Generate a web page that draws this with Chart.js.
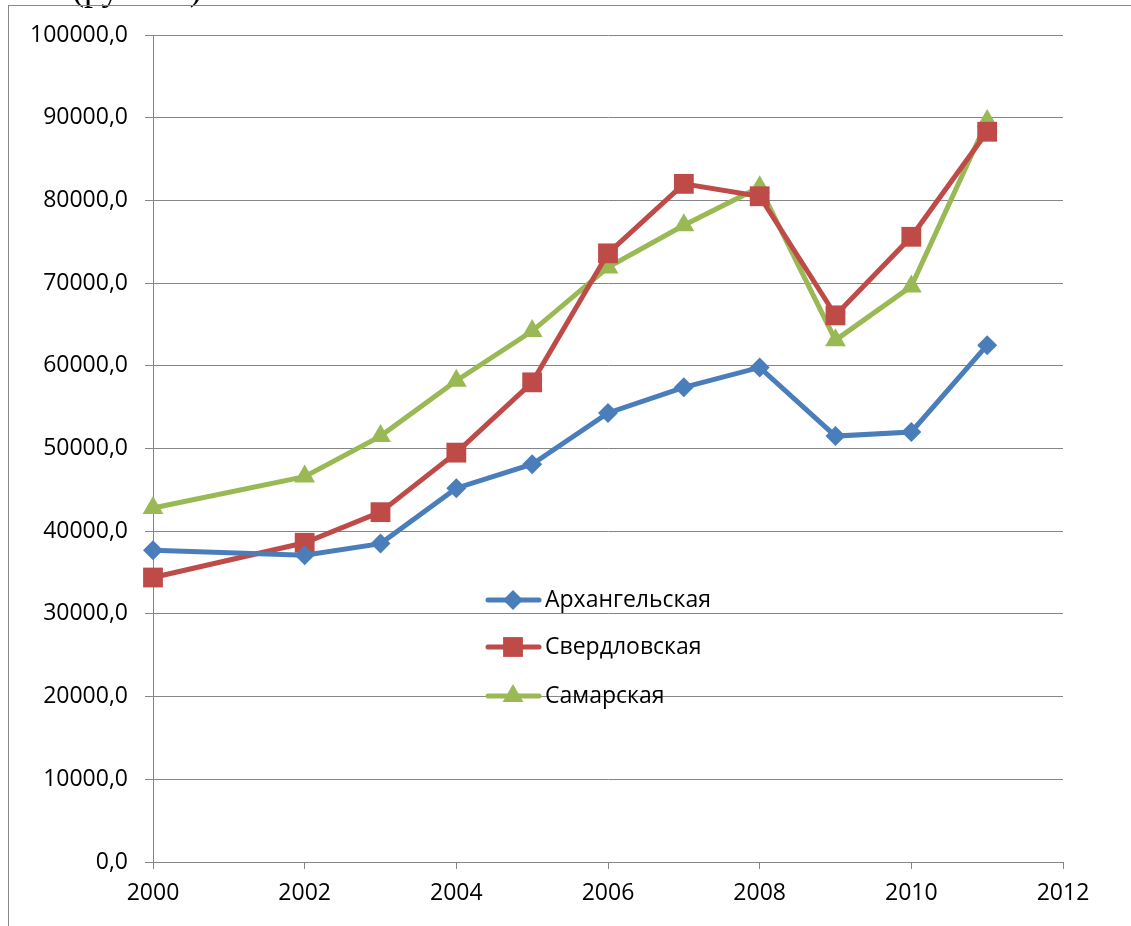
<!DOCTYPE html>
<html>
<head>
<meta charset="utf-8">
<script src="https://cdn.jsdelivr.net/npm/chart.js@4"></script>
<style>
  html, body { margin:0; padding:0; background:#fff; overflow:hidden; }
  #wrap { position:absolute; left:0; top:0; width:1131px; height:926px; }
  #frame { position:absolute; left:8px; top:5px; width:1140px; height:940px; border-left:1px solid #878787; border-top:1px solid #878787; box-sizing:border-box; }
  #cut { position:absolute; left:72px; top:-33px; font-family:"Liberation Serif","Times New Roman",serif; font-size:36px; color:#000; white-space:nowrap; }
</style>
</head>
<body>
<div id="wrap">
  <div id="cut">(рублей)</div>
  <div id="frame"></div>
  <canvas id="c" width="1131" height="926"></canvas>
</div>
<script>
const years = [2000, 2002, 2003, 2004, 2005, 2006, 2007, 2008, 2009, 2010, 2011];
const seriesNames = ["Архангельская", "Свердловская", "Самарская"];
const arkhangelsk = [37700, 37100, 38500, 45200, 48100, 54300, 57400, 59800, 51500, 52000, 62500];
const sverdlovsk  = [34400, 38600, 42300, 49500, 58000, 73600, 82000, 80500, 66100, 75600, 88300];
const samara      = [42800, 46600, 51500, 58200, 64200, 71900, 77000, 81600, 63100, 69600, 89600];
const yTickMin = 0, yTickMax = 100000, yTickStep = 10000;
const xTickMin = 2000, xTickMax = 2012, xTickStep = 2;

const colors = ["#4A7EBB", "#BE4B48", "#98B954"];
const shapes = ["rectRot", "rect", "triangle"];
const radii = [10, 14, 12];
const values = [arkhangelsk, sverdlovsk, samara];

const datasets = values.map((vals, i) => ({
  label: seriesNames[i],
  data: years.map((y, j) => ({ x: y, y: vals[j] })),
  borderColor: colors[i],
  backgroundColor: colors[i],
  pointBackgroundColor: colors[i],
  pointBorderColor: colors[i],
  pointBorderWidth: 0,
  pointStyle: shapes[i],
  pointRadius: radii[i],
  pointHoverRadius: radii[i],
  borderWidth: 5,
  tension: 0,
  clip: false
}));

const FONT = '"Open Sans", "DejaVu Sans", sans-serif';

const legendPlugin = {
  id: 'insideLegend',
  afterDatasetsDraw(chart) {
    const ctx = chart.ctx;
    const rows = [600, 647, 696];
    chart.data.datasets.forEach((ds, i) => {
      const y = rows[i];
      ctx.save();
      ctx.strokeStyle = ds.borderColor;
      ctx.lineWidth = 5;
      ctx.lineCap = 'round';
      ctx.beginPath();
      ctx.moveTo(488, y);
      ctx.lineTo(539, y);
      ctx.stroke();
      ctx.fillStyle = ds.pointBackgroundColor;
      ctx.strokeStyle = ds.pointBorderColor;
      Chart.helpers.drawPoint(ctx, { pointStyle: ds.pointStyle, radius: ds.pointRadius, rotation: 0, borderWidth: 0 }, 513, y);
      ctx.fillStyle = '#000';
      ctx.font = '23px ' + FONT;
      ctx.textBaseline = 'middle';
      ctx.textAlign = 'left';
      ctx.fillText(ds.label, 545, y);
      ctx.restore();
    });
  }
};

new Chart(document.getElementById('c'), {
  type: 'line',
  data: { datasets },
  options: {
    responsive: false,
    animation: false,
    events: [],
    layout: { padding: { left: 0, top: 35, right: 68, bottom: 0 } },
    plugins: { legend: { display: false }, tooltip: { enabled: false }, title: { display: false } },
    scales: {
      x: {
        type: 'linear',
        min: xTickMin, max: xTickMax,
        afterFit(s) { s.height = 64; },
        afterBuildTicks(s) {
          const t = [];
          for (let v = xTickMin; v <= xTickMax; v += xTickStep) t.push({ value: v });
          s.ticks = t;
        },
        ticks: {
          color: '#000',
          font: { family: FONT, size: 23 },
          padding: 11,
          maxRotation: 0,
          autoSkip: false,
          callback: v => String(v)
        },
        grid: { drawOnChartArea: false, drawTicks: true, tickLength: 7, color: '#868686', lineWidth: 1 },
        border: { display: true, color: '#868686', width: 1 }
      },
      y: {
        type: 'linear',
        min: yTickMin, max: yTickMax,
        afterFit(s) { s.width = 153; },
        ticks: {
          stepSize: yTickStep,
          color: '#000',
          font: { family: FONT, size: 23 },
          padding: 17,
          callback: v => v.toFixed(1).replace('.', ',')
        },
        grid: { drawOnChartArea: true, drawTicks: true, tickLength: 8, color: '#868686', lineWidth: 1 },
        border: { display: true, color: '#868686', width: 1 }
      }
    }
  },
  plugins: [legendPlugin]
});
</script>
</body>
</html>
